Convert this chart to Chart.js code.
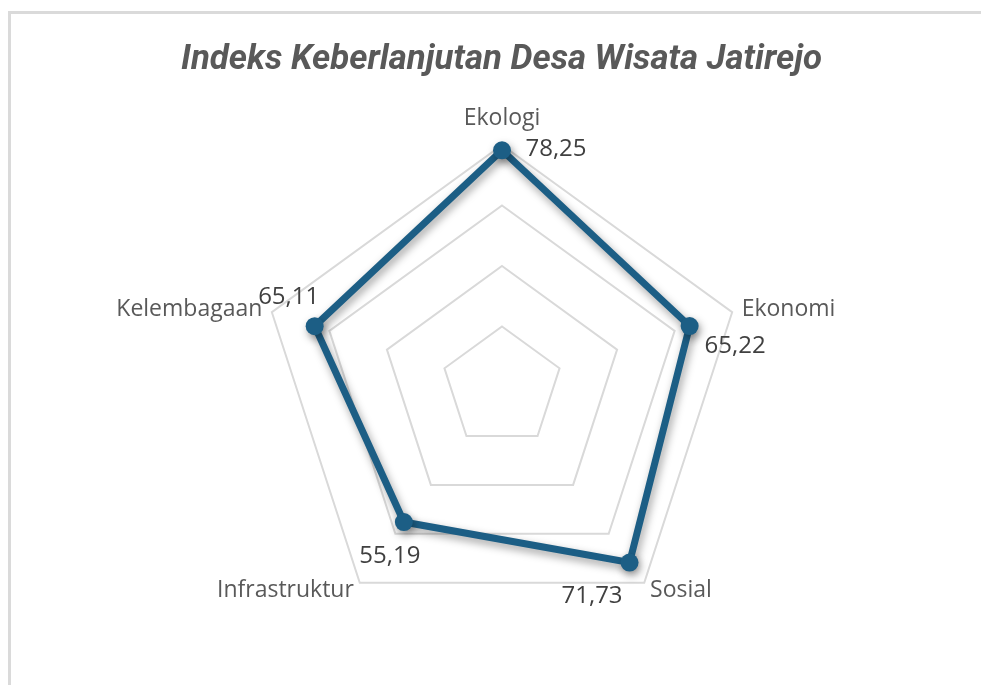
<!DOCTYPE html>
<html>
<head>
<meta charset="utf-8">
<title>Indeks Keberlanjutan Desa Wisata Jatirejo</title>
<script src="https://cdn.jsdelivr.net/npm/chart.js@4.4.1/dist/chart.umd.min.js"></script>
<style>
    html, body
    {
        margin: 0;
        padding: 0;
        background: #ffffff;
        overflow: hidden;
    }

    #wrap
    {
        position: relative;
        width: 981px;
        height: 685px;
    }

    #frame
    {
        position: absolute;
        left: 8px;
        top: 11px;
        width: 1200px;
        height: 900px;
        border-top: 3px solid #dadada;
        border-left: 3px solid #dadada;
        pointer-events: none;
    }
</style>
</head>
<body>
<div id="wrap">
    <canvas id="radar" width="981" height="685"></canvas>
    <div id="frame"></div>
</div>
<script>
// Chart data
const titleText = 'Indeks Keberlanjutan Desa Wisata Jatirejo';
const categories = ['Ekologi', 'Ekonomi', 'Sosial', 'Infrastruktur', 'Kelembagaan'];
const indexValues = [78.25, 65.22, 71.73, 55.19, 65.11];
const axisMin = 0;
const axisMax = 80;
const axisStep = 20;

// Where each value label sits relative to its point (label centre, px)
const valueLabelOffsets = [[54, -1.5], [45.5, 20.5], [-37.5, 34], [-14, 34], [-26, -28.6]];

const lineColor = '#1c5e85';
const labelFont = "'Open Sans', 'Noto Sans', sans-serif";

function formatValue(v)
{
    return v.toFixed(2).replace('.', ',');
}

// Title sits above the plot, over the whole canvas width
const titlePlugin =
{
    id: 'chartTitle',

    afterDraw(chart)
    {
        const ctx = chart.ctx;

        ctx.save();
        ctx.font = "italic bold 35px Roboto, 'Open Sans', sans-serif";
        ctx.fillStyle = '#595959';
        ctx.textAlign = 'center';
        ctx.textBaseline = 'middle';
        ctx.fillText(titleText, 501.5, 60, 641);
        ctx.restore();
    }
};

// Soft shadow under the series line, like the office chart
const shadowPlugin =
{
    id: 'lineShadow',

    beforeDatasetDraw(chart)
    {
        const ctx = chart.ctx;
        ctx.save();
        ctx.shadowColor = 'rgba(0,0,0,0.38)';
        ctx.shadowBlur = 8;
        ctx.shadowOffsetX = 2;
        ctx.shadowOffsetY = 4;
    },

    afterDatasetDraw(chart)
    {
        chart.ctx.restore();
    }
};

// Category names round the outer ring, and the value labels
const labelsPlugin =
{
    id: 'radarLabels',

    afterDatasetsDraw(chart)
    {
        const ctx = chart.ctx;
        const scale = chart.scales.r;
        const meta = chart.getDatasetMeta(0);

        ctx.save();

        // Category labels
        ctx.font = '23px ' + labelFont;
        ctx.fillStyle = '#595959';
        ctx.textBaseline = 'middle';

        categories.forEach((name, i) =>
        {
            const outer = scale.getPointPositionForValue(i, axisMax);
            const ux = (outer.x - scale.xCenter) / scale.drawingArea;
            const uy = (outer.y - scale.yCenter) / scale.drawingArea;
            const pad = 10;

            let x = outer.x + ux * pad;
            let y = outer.y + uy * pad;

            if(Math.abs(ux) < 0.1)
            {
                ctx.textAlign = 'center';
                y -= 17;
            }
            else
            {
                ctx.textAlign = ux > 0 ? 'left' : 'right';
            }

            ctx.fillText(name, x, y);
        });

        // Value labels
        ctx.font = '24px ' + labelFont;
        ctx.fillStyle = '#404040';
        ctx.textAlign = 'center';

        meta.data.forEach((pt, i) =>
        {
            const off = valueLabelOffsets[i];
            ctx.fillText(formatValue(indexValues[i]), pt.x + off[0], pt.y + off[1]);
        });

        ctx.restore();
    }
};

new Chart(
    document.getElementById('radar'),
    {
        type: 'radar',

        data:
        {
            labels: categories,

            datasets:
            [
                {
                    data: indexValues,

                    borderColor: lineColor,
                    borderWidth: 7,
                    backgroundColor: 'rgba(0,0,0,0)',
                    fill: false,

                    pointRadius: 9,
                    pointHoverRadius: 9,
                    pointBorderWidth: 0,
                    pointBackgroundColor: lineColor,

                    tension: 0
                }
            ]
        },

        options:
        {
            responsive: false,
            animation: false,
            devicePixelRatio: 1,

            layout:
            {
                padding:
                {
                    top: 145,
                    left: 260,
                    right: 237,
                    bottom: 56
                }
            },

            plugins:
            {
                legend:
                {
                    display: false
                },

                tooltip:
                {
                    enabled: false
                },

                title:
                {
                    display: false
                }
            },

            scales:
            {
                r:
                {
                    min: axisMin,
                    max: axisMax,

                    ticks:
                    {
                        display: false,
                        stepSize: axisStep
                    },

                    grid:
                    {
                        color: '#d9d9d9',
                        lineWidth: 2,
                        circular: false
                    },

                    angleLines:
                    {
                        display: false
                    },

                    pointLabels:
                    {
                        display: false
                    }
                }
            }
        },

        plugins: [titlePlugin, shadowPlugin, labelsPlugin]
    }
);
</script>
</body>
</html>
